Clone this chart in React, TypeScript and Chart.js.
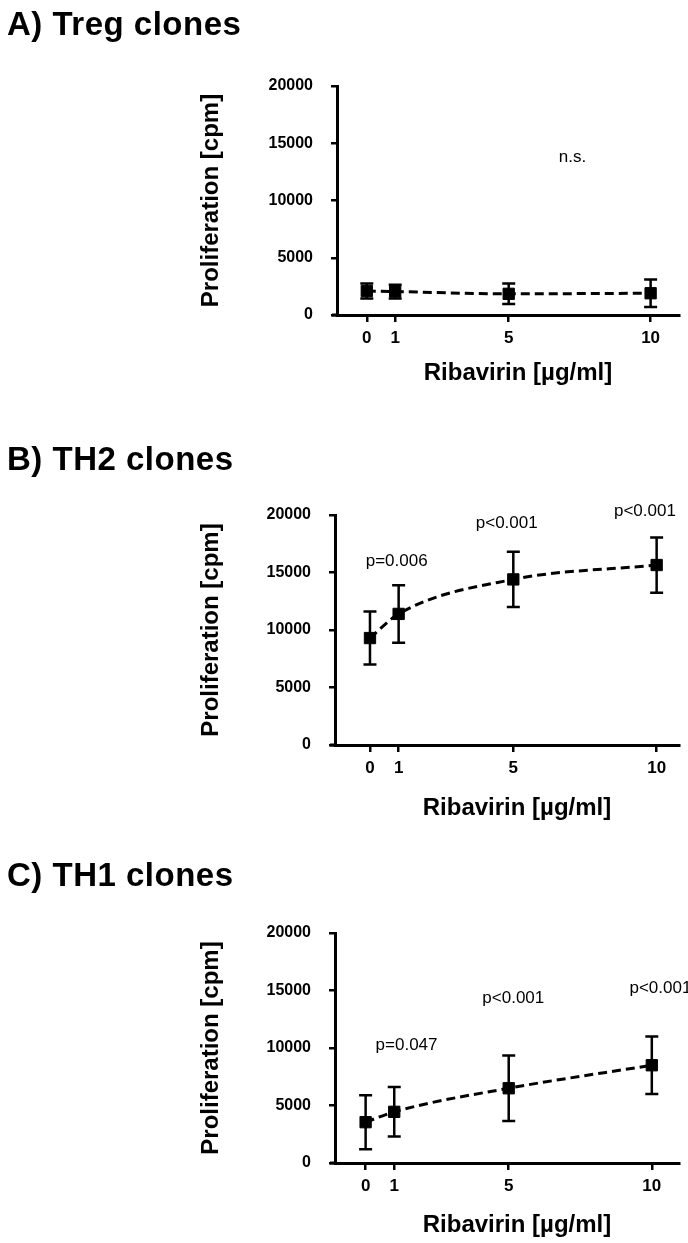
import React, { useEffect, useRef } from 'react';
import { Chart, registerables } from 'chart.js';

Chart.register(...registerables);

// ---------------- data ----------------
const doses = [0, 1, 5, 10];
const xTickLabels = ['0', '1', '5', '10'];
const yTickValues = [0, 5000, 10000, 15000, 20000];

const tregMean = [2100, 2050, 1850, 1900];
const tregErr = [650, 600, 900, 1200];
const th2Mean = [9300, 11400, 14400, 15650];
const th2Err = [2300, 2500, 2400, 2400];
const th1Mean = [3550, 4450, 6500, 8500];
const th1Err = [2350, 2150, 2850, 2500];

const tregNoteText = ['n.s.'];
const tregNoteX = [7.25];
const tregNoteY = [13800];
const th2NoteText = ['p=0.006', 'p<0.001', 'p<0.001'];
const th2NoteX = [0.93, 4.77, 9.59];
const th2NoteY = [16000, 19300, 20300];
const th1NoteText = ['p=0.047', 'p<0.001', 'p<0.001'];
const th1NoteX = [1.43, 5.16, 10.3];
const th1NoteY = [10200, 14350, 15200];

const panelTitles = ['A) Treg clones', 'B) TH2 clones', 'C) TH1 clones'];
const xTitle = 'Ribavirin [µg/ml]';
const yTitle = 'Proliferation [cpm]';

// ---------------- layout ----------------
const W = 688;
const H = 1243;
const FONT = '"Liberation Sans", Arial, Helvetica, sans-serif';
const Y_AXIS_W = 80;
const X_AXIS_H = 40;

const panels = [
  {
    title: panelTitles[0], titleBaseline: 35,
    area: { left: 337, right: 682, top: 86, bottom: 315 },
    xMin: -1.05, xMax: 11.0, xTitleY: 373,
    mean: tregMean, err: tregErr,
    noteText: tregNoteText, noteX: tregNoteX, noteY: tregNoteY,
  },
  {
    title: panelTitles[1], titleBaseline: 470,
    area: { left: 335, right: 679, top: 515, bottom: 745 },
    xMin: -1.22, xMax: 10.78, xTitleY: 808,
    mean: th2Mean, err: th2Err,
    noteText: th2NoteText, noteX: th2NoteX, noteY: th2NoteY,
  },
  {
    title: panelTitles[2], titleBaseline: 886,
    area: { left: 335, right: 679, top: 933, bottom: 1163 },
    xMin: -1.07, xMax: 10.95, xTitleY: 1225,
    mean: th1Mean, err: th1Err,
    noteText: th1NoteText, noteX: th1NoteX, noteY: th1NoteY,
  },
];

function Panel({ cfg }: { cfg: any }) {
  const ref = useRef<HTMLCanvasElement | null>(null);

  useEffect(() => {
    if (!ref.current) return;
    const a = cfg.area;

    const decor = {
      id: 'decor',
      beforeDatasetsDraw(chart: any) {
        const ctx = chart.ctx;
        const xs = chart.scales.x;
        const ys = chart.scales.y;
        ctx.save();
        ctx.strokeStyle = '#000';
        ctx.lineWidth = 2.5;
        cfg.mean.forEach((m: number, i: number) => {
          const px = xs.getPixelForValue(doses[i]);
          const top = ys.getPixelForValue(m + cfg.err[i]);
          const bot = ys.getPixelForValue(m - cfg.err[i]);
          ctx.beginPath();
          ctx.moveTo(px, top);
          ctx.lineTo(px, bot);
          ctx.moveTo(px - 6.5, top);
          ctx.lineTo(px + 6.5, top);
          ctx.moveTo(px - 6.5, bot);
          ctx.lineTo(px + 6.5, bot);
          ctx.stroke();
        });
        ctx.restore();
      },
      afterDraw(chart: any) {
        const ctx = chart.ctx;
        const ca = chart.chartArea;
        const xs = chart.scales.x;
        const ys = chart.scales.y;
        ctx.save();
        ctx.fillStyle = '#000';
        // panel title
        ctx.font = `bold 33px ${FONT}`;
        ctx.textAlign = 'left';
        ctx.textBaseline = 'alphabetic';
        try { (ctx as any).letterSpacing = '0.5px'; } catch (e) {}
        ctx.fillText(cfg.title, 7, cfg.titleBaseline);
        try { (ctx as any).letterSpacing = '0px'; } catch (e) {}
        // x title
        ctx.font = `bold 24px ${FONT}`;
        ctx.textAlign = 'center';
        ctx.textBaseline = 'middle';
        ctx.fillText(xTitle, (ca.left + ca.right) / 2 + 10, cfg.xTitleY);
        // y title
        ctx.save();
        ctx.translate(211, (ca.top + ca.bottom) / 2);
        ctx.rotate(-Math.PI / 2);
        ctx.fillText(yTitle, 0, 0);
        ctx.restore();
        // notes
        ctx.font = `17px ${FONT}`;
        cfg.noteText.forEach((t: string, i: number) => {
          ctx.fillText(t, xs.getPixelForValue(cfg.noteX[i]), ys.getPixelForValue(cfg.noteY[i]));
        });
        // small extension of x axis to the left of the y axis
        ctx.strokeStyle = '#000';
        ctx.lineWidth = 3;
        ctx.beginPath();
        ctx.moveTo(ca.left - 5, ca.bottom);
        ctx.lineTo(ca.left, ca.bottom);
        ctx.stroke();
        ctx.restore();
      },
    };

    const chart = new Chart(ref.current, {
      type: 'line',
      data: {
        datasets: [
          {
            data: doses.map((d, i) => ({ x: d, y: cfg.mean[i] })),
            borderColor: '#000',
            borderWidth: 3,
            borderDash: [9, 5],
            pointRadius: 0,
            cubicInterpolationMode: 'monotone',
            fill: false,
            order: 2,
          },
          {
            data: doses.map((d, i) => ({ x: d, y: cfg.mean[i] })),
            showLine: false,
            pointStyle: 'rect',
            pointRadius: 8,
            backgroundColor: '#000',
            borderColor: '#000',
            borderWidth: 1,
            order: 1,
          },
        ],
      },
      options: {
        responsive: false,
        devicePixelRatio: 1,
        animation: false,
        events: [],
        layout: {
          padding: {
            left: a.left - Y_AXIS_W,
            right: W - a.right,
            top: a.top,
            bottom: H - a.bottom - X_AXIS_H,
          },
        },
        plugins: {
          legend: { display: false },
          tooltip: { enabled: false },
          title: { display: false },
        },
        scales: {
          x: {
            type: 'linear',
            min: cfg.xMin,
            max: cfg.xMax,
            afterBuildTicks: (s: any) => { s.ticks = doses.map((v) => ({ value: v })); },
            afterFit: (s: any) => { s.height = X_AXIS_H; },
            ticks: {
              autoSkip: false,
              maxRotation: 0,
              padding: 6,
              color: '#000',
              font: { family: FONT, size: 17, weight: 'bold' },
              callback: (_v: any, i: number) => xTickLabels[i],
            },
            grid: { display: true, drawOnChartArea: false, drawTicks: true, tickLength: 7, color: '#000', lineWidth: 2.5 },
            border: { display: true, color: '#000', width: 3 },
          },
          y: {
            type: 'linear',
            min: 0,
            max: 20000,
            afterBuildTicks: (s: any) => { s.ticks = yTickValues.map((v) => ({ value: v })); },
            afterFit: (s: any) => { s.width = Y_AXIS_W; },
            ticks: {
              padding: 18,
              color: '#000',
              font: { family: FONT, size: 16, weight: 'bold' },
              callback: (v: any) => String(v),
            },
            grid: { display: true, drawOnChartArea: false, drawTicks: true, tickLength: 6, color: '#000', lineWidth: 2.5 },
            border: { display: true, color: '#000', width: 3 },
          },
        },
      },
      plugins: [decor],
    } as any);

    return () => chart.destroy();
  }, [cfg]);

  return (
    <canvas
      ref={ref}
      width={W}
      height={H}
      style={{ position: 'absolute', left: 0, top: 0, width: W, height: H, display: 'block' }}
    />
  );
}

export default function App() {
  return (
    <div style={{ position: 'absolute', left: 0, top: 0, width: W, height: H, background: '#fff', overflow: 'hidden' }}>
      {panels.map((p, i) => (
        <Panel key={i} cfg={p} />
      ))}
    </div>
  );
}
